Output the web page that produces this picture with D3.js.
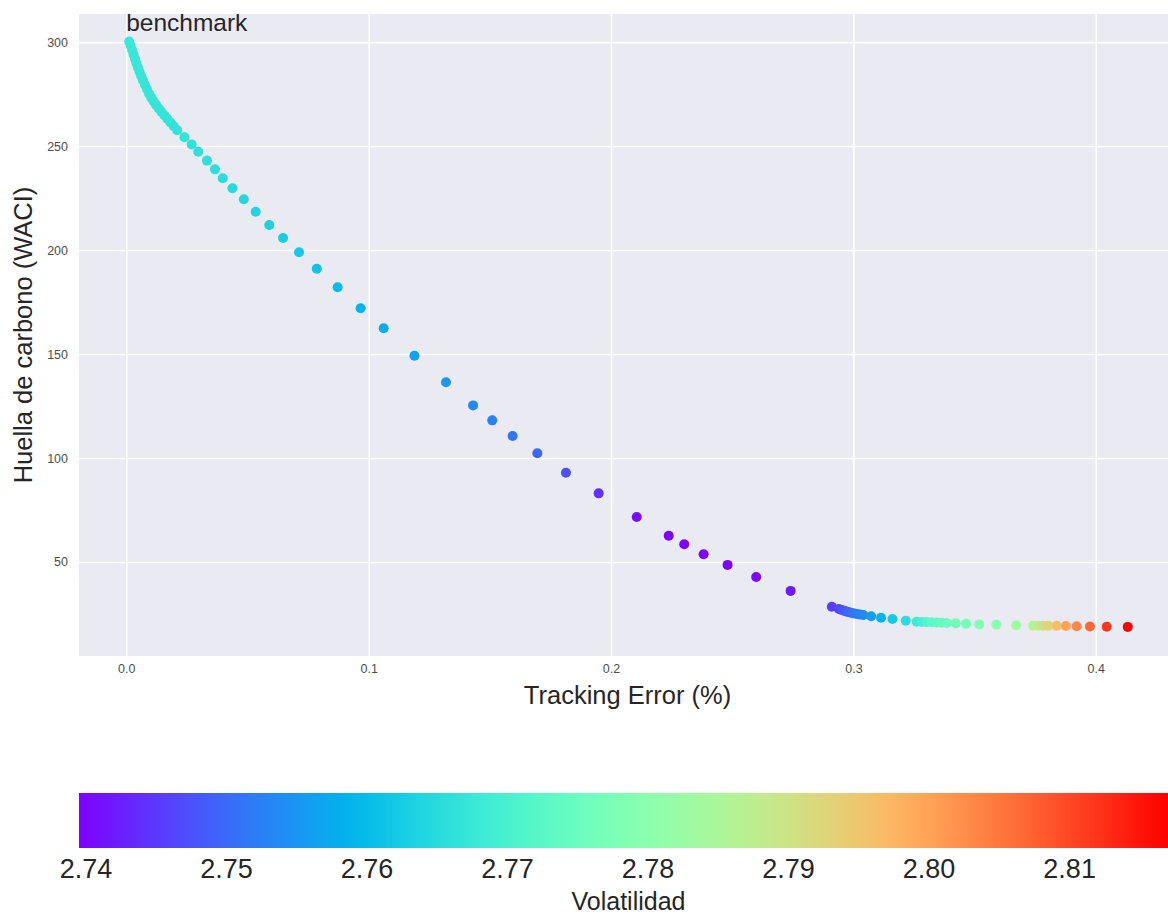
<!DOCTYPE html>
<html>
<head>
<meta charset="utf-8">
<script src="https://cdn.jsdelivr.net/npm/d3@7"></script>
<style>
    body { margin: 0; background: #fff; }
    text { font-family: "Liberation Sans", Arial, sans-serif; }
</style>
</head>
<body>
<script>
'use strict';

// Tracking error (%) of each portfolio
const teValues = [
    0.0012, 0.0018, 0.0024, 0.0030, 0.0036, 0.0042, 0.0048, 0.0055, 0.0062, 0.0069,
    0.0077, 0.0085, 0.0094, 0.0103, 0.0113, 0.0123, 0.0134, 0.0145, 0.0157, 0.0169,
    0.0182, 0.0196, 0.0210,
    0.0240, 0.0270, 0.0297, 0.0333, 0.0366, 0.0398, 0.0438, 0.0485, 0.0534, 0.0590,
    0.0647, 0.0713, 0.0786, 0.0872, 0.0967, 0.1062, 0.1189, 0.1319, 0.1431, 0.1510,
    0.1594, 0.1696, 0.1814, 0.1949, 0.2106, 0.2238, 0.2302, 0.2382, 0.2481, 0.2599,
    0.2741, 0.2911,
    0.2940, 0.2952, 0.2963, 0.2973, 0.2983, 0.2993, 0.3003, 0.3014, 0.3027, 0.3041,
    0.3073, 0.3114, 0.3161, 0.3216, 0.3261, 0.3282, 0.3302, 0.3323, 0.3344, 0.3364,
    0.3385, 0.3422, 0.3465, 0.3519, 0.3590, 0.3672, 0.3742, 0.3763, 0.3783, 0.3804,
    0.3839, 0.3877, 0.3921, 0.3976, 0.4045, 0.4132
];

// Huella de carbono (WACI)
const waciValues = [
    300.3, 298.3, 296.2, 294.0, 291.9, 289.8, 287.8, 285.7, 283.6, 281.6,
    279.5, 277.4, 275.2, 273.3, 271.5, 269.8, 268.1, 266.5, 264.8, 263.1,
    261.3, 259.5, 257.6,
    254.2, 250.8, 247.3, 243.0, 238.8, 234.5, 229.7, 224.4, 218.4, 212.0,
    205.8, 198.9, 191.0, 182.1, 172.0, 162.4, 149.2, 136.4, 125.3, 118.1,
    110.6, 102.3, 92.9, 83.0, 71.6, 62.6, 58.5, 53.7, 48.6, 42.8,
    36.1, 28.5,
    27.4, 26.9, 26.5, 26.1, 25.8, 25.5, 25.2, 25.0, 24.7, 24.5,
    23.9, 23.2, 22.6, 21.8, 21.3, 21.2, 21.1, 21.0, 20.9, 20.8,
    20.7, 20.5, 20.3, 20.0, 19.9, 19.6, 19.4, 19.4, 19.35, 19.3,
    19.3, 19.2, 19.1, 19.0, 18.9, 18.8
];

// Volatilidad (colour)
const volValues = [
    2.7676, 2.7676, 2.7675, 2.7675, 2.7674, 2.7674, 2.7673, 2.7673, 2.7672, 2.7672,
    2.7671, 2.7671, 2.7670, 2.7670, 2.7669, 2.7669, 2.7668, 2.7668, 2.7667, 2.7667,
    2.7667, 2.7666, 2.7666,
    2.7665, 2.7663, 2.7661, 2.7658, 2.7655, 2.7652, 2.7648, 2.7643, 2.7638, 2.7632,
    2.7626, 2.7619, 2.7610, 2.7600, 2.7589, 2.7578, 2.7564, 2.7550, 2.7535, 2.7525,
    2.7514, 2.7500, 2.7473, 2.7442, 2.7410, 2.7400, 2.7398, 2.7397, 2.7398, 2.7402,
    2.7418, 2.7457,
    2.7465, 2.7473, 2.7481, 2.7488, 2.7496, 2.7504, 2.7511, 2.7519, 2.7527, 2.7535,
    2.7558, 2.7589, 2.7620, 2.7651, 2.7682, 2.7697, 2.7713, 2.7728, 2.7736, 2.7744,
    2.7752, 2.7759, 2.7767, 2.7783, 2.7798, 2.7829, 2.7860, 2.7883, 2.7907, 2.7930,
    2.7961, 2.8000, 2.8031, 2.8069, 2.8116, 2.8170
];

// Tick labels
const xTicks = [0.0, 0.1, 0.2, 0.3, 0.4];
const yTicks = [50, 100, 150, 200, 250, 300];
const volTicks = [2.74, 2.75, 2.76, 2.77, 2.78, 2.79, 2.80, 2.81];

// IIFE
(function () {
    // matplotlib "rainbow" colormap
    function rainbow(t) {
        t = Math.max(0, Math.min(1, t));
        const r = Math.min(1, Math.abs(2 * t - 0.5));
        const g = Math.sin(Math.PI * t);
        const b = Math.cos(Math.PI * t / 2);
        return d3.rgb(r * 255, g * 255, b * 255).formatHex();
    }

    var width = 1168, height = 915;
    var plot = { left: 79, right: 1168, top: 14, bottom: 656 };
    var bar = { left: 79, right: 1168, top: 793, bottom: 848 };

    var svg = d3.select("body").append("svg")
        .attr("width", width)
        .attr("height", height);

    //scales
    var xscale = d3.scaleLinear()
        .domain([-0.0195, 0.4298])
        .range([plot.left, plot.right]);
    var yscale = d3.scaleLinear()
        .domain([4.8, 313.5])
        .range([plot.bottom, plot.top]);
    var volScale = d3.scaleLinear()
        .domain([2.7395, 2.8170])
        .range([0, 1]);
    var barScale = d3.scaleLinear()
        .domain([2.7395, 2.8170])
        .range([bar.left, bar.right]);

    // background (seaborn darkgrid)
    svg.append("rect")
        .attr("x", plot.left)
        .attr("y", plot.top)
        .attr("width", plot.right - plot.left)
        .attr("height", plot.bottom - plot.top)
        .attr("fill", "#eaeaf2");

    // grid + tick labels
    var xAxis = svg.append("g")
        .attr("transform", "translate(0," + plot.bottom + ")")
        .call(d3.axisBottom(xscale).tickValues(xTicks).tickFormat(d3.format(".1f"))
            .tickSize(-(plot.bottom - plot.top)).tickPadding(8));
    var yAxis = svg.append("g")
        .attr("transform", "translate(" + plot.left + ",0)")
        .call(d3.axisLeft(yscale).tickValues(yTicks).tickFormat(d3.format("d"))
            .tickSize(-(plot.right - plot.left)).tickPadding(11));

    [xAxis, yAxis].forEach(function (ax) {
        ax.select(".domain").remove();
        ax.selectAll(".tick line")
            .attr("stroke", "#ffffff")
            .attr("stroke-width", 1.6);
        ax.selectAll(".tick text")
            .attr("fill", "#4d4d4d")
            .style("font-size", "12.5px")
            .style("font-family", "'Liberation Sans', Arial, sans-serif");
    });

    // points
    var data = teValues.map(function (te, i) {
        return { te: te, waci: waciValues[i], vol: volValues[i] };
    });
    svg.append("g")
        .selectAll("circle")
        .data(data)
        .enter()
        .append("circle")
        .attr("cx", function (d) { return xscale(d.te); })
        .attr("cy", function (d) { return yscale(d.waci); })
        .attr("r", 5)
        .attr("fill", function (d) { return rainbow(volScale(d.vol)); });

    // annotation
    svg.append("text")
        .attr("x", xscale(teValues[0]) - 3)
        .attr("y", yscale(waciValues[0]) - 10)
        .attr("fill", "#262626")
        .style("font-size", "24.5px")
        .text("benchmark");

    // axis labels
    svg.append("text")
        .attr("x", (plot.left + plot.right) / 2 + 4)
        .attr("y", 704)
        .attr("text-anchor", "middle")
        .attr("fill", "#262626")
        .style("font-size", "25.5px")
        .text("Tracking Error (%)");
    svg.append("text")
        .attr("transform", "translate(32," + ((plot.top + plot.bottom) / 2) + ") rotate(-90)")
        .attr("text-anchor", "middle")
        .attr("fill", "#262626")
        .style("font-size", "25.5px")
        .text("Huella de carbono (WACI)");

    // colorbar
    var grad = svg.append("defs").append("linearGradient")
        .attr("id", "cbar")
        .attr("x1", "0%").attr("x2", "100%")
        .attr("y1", "0%").attr("y2", "0%");
    grad.selectAll("stop")
        .data(d3.range(0, 1.0001, 0.02))
        .enter()
        .append("stop")
        .attr("offset", function (d) { return (d * 100) + "%"; })
        .attr("stop-color", function (d) { return rainbow(d); });

    svg.append("rect")
        .attr("x", bar.left)
        .attr("y", bar.top)
        .attr("width", bar.right - bar.left)
        .attr("height", bar.bottom - bar.top)
        .attr("fill", "url(#cbar)");

    svg.append("g")
        .selectAll("text")
        .data(volTicks)
        .enter()
        .append("text")
        .attr("x", function (d) { return barScale(d); })
        .attr("y", 878)
        .attr("text-anchor", "middle")
        .attr("fill", "#262626")
        .style("font-size", "27px")
        .text(function (d) { return d3.format(".2f")(d); });

    svg.append("text")
        .attr("x", (bar.left + bar.right) / 2 + 5)
        .attr("y", 910)
        .attr("text-anchor", "middle")
        .attr("fill", "#262626")
        .style("font-size", "25px")
        .text("Volatilidad");
})();
</script>
</body>
</html>
